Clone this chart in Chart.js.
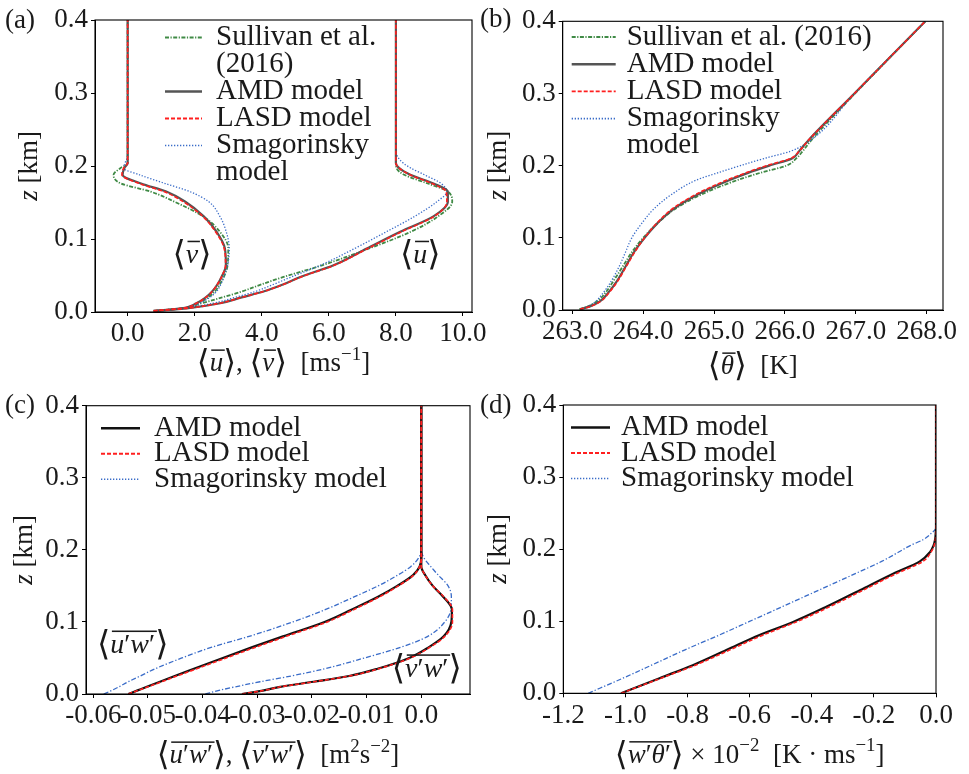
<!DOCTYPE html>
<html>
<head>
<meta charset="utf-8">
<script src="https://cdn.jsdelivr.net/npm/chart.js@4.4.0/dist/chart.umd.min.js"></script>
<style>
  body { margin: 0; background: #fff; }
  #fig { position: relative; width: 969px; height: 774px; overflow: hidden; }
  #fig canvas { position: absolute; }
</style>
</head>
<body>
<div id="fig">
  <canvas id="panelA" width="490" height="387" style="left:0;top:0"></canvas>
  <canvas id="panelC" width="490" height="387" style="left:0;top:387px"></canvas>
  <canvas id="panelB" width="493" height="387" style="left:476px;top:0"></canvas>
  <canvas id="panelD" width="493" height="387" style="left:476px;top:387px"></canvas>
</div>
<script>
"use strict";

// (a) mean velocity profiles, heights in km
var zA = [0.0015, 0.005, 0.012, 0.02, 0.028, 0.038, 0.048, 0.064, 0.087, 0.11, 0.131, 0.151, 0.165, 0.176, 0.188, 0.197, 0.204, 0.212, 0.22, 0.23, 0.4];
var uSullivan = [0.8, 1.6, 2.2, 2.82, 3.4, 4.0, 4.65, 5.8, 7.2, 8.45, 9.26, 9.68, 9.55, 8.95, 8.25, 8.02, 8.0, 8.0, 8.0, 8.0, 8.0];
var uAmd = [0.78, 1.76, 2.76, 3.4, 4.05, 4.65, 5.15, 6.14, 7.13, 8.13, 9.12, 9.55, 9.55, 9.12, 8.43, 8.1, 8.0, 8.0, 8.0, 8.0, 8.0];
var uLasd = [0.78, 1.74, 2.74, 3.4, 4.05, 4.66, 5.17, 6.16, 7.16, 8.17, 9.14, 9.52, 9.5, 9.08, 8.42, 8.1, 8.0, 8.0, 8.0, 8.0, 8.0];
var uSmag = [0.85, 1.65, 2.55, 3.2, 3.8, 4.36, 4.88, 5.75, 6.77, 7.72, 8.56, 9.22, 9.52, 9.35, 8.85, 8.45, 8.22, 8.06, 8.0, 8.0, 8.0];
var vSullivan = [0.8, 1.65, 2.1, 2.4, 2.6, 2.75, 2.87, 2.98, 3.0, 2.75, 2.25, 1.4, 0.68, -0.2, -0.42, -0.22, 0.0, 0.0, 0.0, 0.0, 0.0];
var vAmd = [0.77, 1.6, 2.05, 2.33, 2.52, 2.68, 2.8, 2.93, 2.9, 2.65, 2.27, 1.72, 1.15, 0.4, -0.15, -0.1, 0.0, 0.0, 0.0, 0.0, 0.0];
var vLasd = [0.77, 1.6, 2.05, 2.33, 2.52, 2.68, 2.8, 2.92, 2.88, 2.62, 2.24, 1.66, 1.08, 0.35, -0.17, -0.12, 0.0, 0.0, 0.0, 0.0, 0.0];
var vSmag = [0.85, 1.7, 2.15, 2.45, 2.65, 2.78, 2.87, 2.98, 3.03, 2.94, 2.75, 2.42, 1.85, 1.12, 0.35, -0.12, -0.08, -0.01, 0.0, 0.0, 0.0];

// (b) potential temperature
var zB = [0.001, 0.005, 0.012, 0.023, 0.04, 0.06, 0.08, 0.1, 0.12, 0.14, 0.16, 0.18, 0.19, 0.2, 0.21, 0.22, 0.235, 0.3, 0.4];
var thSullivan = [263.1, 263.22, 263.35, 263.46, 263.58, 263.71, 263.84, 264.0, 264.2, 264.45, 264.82, 265.33, 265.65, 266.02, 266.16, 266.25, 266.37, 266.99, 267.98];
var thAmd = [263.11, 263.25, 263.39, 263.5, 263.63, 263.75, 263.87, 264.02, 264.2, 264.43, 264.77, 265.22, 265.48, 265.78, 266.1, 266.2, 266.33, 266.98, 267.98];
var thLasd = [263.11, 263.26, 263.4, 263.51, 263.64, 263.76, 263.88, 264.02, 264.19, 264.41, 264.74, 265.18, 265.45, 265.74, 266.08, 266.2, 266.33, 266.98, 267.98];
var thSmag = [263.11, 263.22, 263.33, 263.43, 263.55, 263.66, 263.75, 263.84, 263.98, 264.15, 264.4, 264.75, 265.05, 265.37, 265.71, 266.08, 266.36, 266.98, 267.98];

// (c) momentum fluxes
var zC = [0, 0.005, 0.01, 0.017, 0.025, 0.035, 0.05, 0.065, 0.08, 0.1, 0.117, 0.135, 0.15, 0.165, 0.177, 0.19, 0.2, 0.4];
var uwAmd = [-0.0536, -0.0519, -0.0502, -0.0478, -0.0451, -0.0416, -0.0363, -0.0309, -0.0253, -0.0177, -0.0128, -0.0079, -0.0044, -0.0015, -0.0003, 0, 0, 0];
var uwLasd = [-0.0536, -0.0518, -0.05, -0.0475, -0.0447, -0.0411, -0.0357, -0.0303, -0.0247, -0.0172, -0.0124, -0.0076, -0.0042, -0.0014, -0.0003, 0, 0, 0];
var uwSmag = [-0.0581, -0.0566, -0.0553, -0.0536, -0.0514, -0.0487, -0.0438, -0.0383, -0.0315, -0.0235, -0.0176, -0.0122, -0.0079, -0.0043, -0.0019, -0.0004, 0, 0];
var vwAmd = [-0.0328, -0.0288, -0.0258, -0.0197, -0.0132, -0.008, -0.0022, 0.0014, 0.0041, 0.0055, 0.0056, 0.004, 0.0021, 0.0007, 0, 0, 0, 0];
var vwLasd = [-0.0328, -0.0288, -0.0257, -0.0196, -0.0131, -0.0078, -0.002, 0.0016, 0.0043, 0.0057, 0.0057, 0.0041, 0.0021, 0.0007, 0, 0, 0, 0];
var vwSmag = [-0.0395, -0.037, -0.034, -0.0295, -0.0238, -0.0177, -0.0104, -0.0037, 0.0012, 0.0043, 0.0054, 0.0055, 0.0049, 0.0031, 0.0017, 0.0004, 0, 0];

// (d) heat flux, units of 1e-2 K m/s
var zD = [0, 0.021, 0.039, 0.06, 0.081, 0.099, 0.12, 0.143, 0.166, 0.183, 0.196, 0.205, 0.213, 0.222, 0.23, 0.4];
var wtAmd = [-1.014, -0.89, -0.783, -0.675, -0.568, -0.46, -0.353, -0.245, -0.138, -0.052, -0.019, -0.008, -0.003, -0.001, 0, 0];
var wtLasd = [-1.014, -0.885, -0.775, -0.665, -0.556, -0.45, -0.343, -0.235, -0.128, -0.042, -0.016, -0.006, -0.002, 0, 0, 0];
var wtSmag = [-1.12, -1.008, -0.916, -0.81, -0.697, -0.604, -0.496, -0.378, -0.26, -0.175, -0.12, -0.083, -0.042, -0.015, 0, 0];

// tick positions
var zTicks = [0, 0.1, 0.2, 0.3, 0.4];
var uTicks = [0, 2, 4, 6, 8, 10];
var thTicks = [263, 264, 265, 266, 267, 268];
var fluxTicks = [-0.06, -0.05, -0.04, -0.03, -0.02, -0.01, 0];
var heatTicks = [-1.2, -1.0, -0.8, -0.6, -0.4, -0.2, 0];

var SERIF = '"Liberation Serif", "DejaVu Serif", serif';
var BRACKET = '200 {s}px "DejaVu Sans", "DejaVu Serif", ' + SERIF;
var INK = '#1a1a1a';
var LA = '\u27E8', RA = '\u27E9';

var sty = {
  sullivan: { borderColor: '#3f8a45', borderWidth: 1.8, borderDash: [4, 1.5, 1.2, 1.5], order: 3 },
  amdGray: { borderColor: '#555555', borderWidth: 2.2, order: 1 },
  amdBlack: { borderColor: '#111111', borderWidth: 2.2, order: 1 },
  lasd: { borderColor: '#ff1f1f', borderWidth: 1.6, borderDash: [4, 2], order: 0 },
  smagDot: { borderColor: '#3a6cc8', borderWidth: 1.3, borderDash: [1.3, 1.7], order: 2 },
  smagDashDot: { borderColor: '#3a6cc8', borderWidth: 1.3, borderDash: [5, 2, 1.3, 2], legendDash: [1.3, 1.7], order: 2 }
};

function pts(zs, xs) {
  return zs.map(function (z, i) { return { x: xs[i], y: z }; });
}

function series(label, zs, xs, style) {
  return Object.assign({ label: label, data: pts(zs, xs), pointRadius: 0 }, style);
}

// piece of math text: i = italic, o = overline, s = superscript, b = big bracket
function M(t, f) {
  f = f || '';
  return { t: t, it: f.indexOf('i') >= 0, ov: f.indexOf('o') >= 0, sup: f.indexOf('s') >= 0, br: f.indexOf('b') >= 0 };
}

function drawMath(ctx, parts, x, y, size, align) {
  var runs = parts.map(function (p) {
    var font;
    if (p.br) font = BRACKET.replace('{s}', (size * 1.22).toFixed(1));
    else font = (p.it ? 'italic ' : '') + (p.sup ? size * 0.7 : size) + 'px ' + SERIF;
    ctx.font = font;
    return { p: p, font: font, w: ctx.measureText(p.t).width, dy: p.sup ? -size * 0.42 : p.br ? size * 0.08 : 0 };
  });
  var total = runs.reduce(function (s, r) { return s + r.w; }, 0);
  var cx = align === 'center' ? x - total / 2 : align === 'right' ? x - total : x;
  var barStart = null;
  ctx.textAlign = 'left';
  ctx.textBaseline = 'alphabetic';
  runs.forEach(function (r, i) {
    ctx.font = r.font;
    ctx.fillText(r.p.t, cx, y + r.dy);
    if (r.p.ov && barStart === null) barStart = cx;
    var next = runs[i + 1];
    if (r.p.ov && !(next && next.p.ov)) {
      ctx.fillRect(barStart + size * 0.06, y - size * 0.8, cx + r.w - barStart, size * 0.055);
      barStart = null;
    }
    cx += r.w;
  });
}

var framePlugin = {
  id: 'frame',
  afterDraw: function (chart) {
    var a = chart.chartArea, ctx = chart.ctx;
    ctx.save();
    ctx.strokeStyle = '#000';
    ctx.lineWidth = 1.1;
    ctx.strokeRect(a.left, a.top, a.right - a.left, a.bottom - a.top);
    ctx.restore();
  }
};

function legendPlugin(o) {
  return {
    id: 'profileLegend',
    afterDatasetsDraw: function (chart) {
      var ctx = chart.ctx, y = o.y;
      ctx.save();
      chart.data.datasets.forEach(function (ds) {
        if (!ds.label) return;
        ctx.strokeStyle = ds.borderColor;
        ctx.lineWidth = ds.borderWidth + 0.3;
        ctx.setLineDash(ds.legendDash || ds.borderDash || []);
        ctx.beginPath();
        ctx.moveTo(o.x, y - 7.5);
        ctx.lineTo(o.x + o.sample, y - 7.5);
        ctx.stroke();
        ctx.setLineDash([]);
        ctx.fillStyle = INK;
        ctx.font = '29px ' + SERIF;
        ctx.textAlign = 'left';
        ctx.textBaseline = 'alphabetic';
        ds.label.split('\n').forEach(function (line) {
          ctx.fillText(line, o.x + o.sample + o.gap, y);
          y += o.row;
        });
      });
      ctx.restore();
    }
  };
}

function textPlugin(items) {
  return {
    id: 'mathText',
    afterDraw: function (chart) {
      var ctx = chart.ctx;
      ctx.save();
      ctx.fillStyle = INK;
      items.forEach(function (it) {
        var x = it.x, y = it.y;
        if (it.data) {
          x = chart.scales.x.getPixelForValue(it.data[0]);
          y = chart.scales.y.getPixelForValue(it.data[1]);
        }
        if (it.rot) {
          ctx.save();
          ctx.translate(x, y);
          ctx.rotate(-Math.PI / 2);
          drawMath(ctx, it.parts, 0, 0, it.size, 'center');
          ctx.restore();
        } else {
          drawMath(ctx, it.parts, x, y, it.size, it.align || 'center');
        }
      });
      ctx.restore();
    }
  };
}

function axis(min, max, ticks, fmt, band, isX) {
  return {
    type: 'linear',
    position: isX ? 'bottom' : 'left',
    min: min,
    max: max,
    afterBuildTicks: function (s) { s.ticks = ticks.map(function (v) { return { value: v }; }); },
    afterFit: function (s) {
      if (isX) s.height = band; else s.width = band;
      s.paddingLeft = s.paddingRight = s.paddingTop = s.paddingBottom = 0;
    },
    grid: { drawOnChartArea: false, drawTicks: true, tickLength: 4, color: '#000', lineWidth: 1 },
    border: { display: true, color: '#000', width: 1 },
    ticks: {
      autoSkip: false, maxRotation: 0, minRotation: 0, padding: isX ? 2 : 3,
      color: INK, font: { family: SERIF, size: 27 },
      callback: fmt
    }
  };
}

function profileChart(id, c) {
  return new Chart(document.getElementById(id), {
    type: 'line',
    data: { datasets: c.datasets },
    options: {
      responsive: false,
      animation: false,
      devicePixelRatio: 1,
      indexAxis: 'y',
      layout: { padding: { top: c.top, right: c.right, left: 0, bottom: 0 } },
      elements: { point: { radius: 0 }, line: { cubicInterpolationMode: 'monotone', fill: false } },
      plugins: { legend: { display: false }, tooltip: { enabled: false } },
      scales: { x: c.x, y: c.y }
    },
    plugins: [framePlugin, legendPlugin(c.legend), textPlugin(c.text)]
  });
}

function f1(v) { return v.toFixed(1); }
function f2(v) { return v === 0 ? '0.0' : v.toFixed(2); }
var zTitle = [M('z', 'i'), M(' [km]')];

profileChart('panelA', {
  top: 20, right: 18,
  x: axis(-0.974, 10.27, uTicks, f1, 75, true),
  y: axis(0, 0.4, zTicks, f1, 95, false),
  datasets: [
    series('Sullivan et al.\n(2016)', zA, uSullivan, sty.sullivan),
    series('AMD model', zA, uAmd, sty.amdGray),
    series('LASD model', zA, uLasd, sty.lasd),
    series('Smagorinsky\nmodel', zA, uSmag, sty.smagDot),
    series('', zA, vSullivan, sty.sullivan),
    series('', zA, vAmd, sty.amdGray),
    series('', zA, vLasd, sty.lasd),
    series('', zA, vSmag, sty.smagDot)
  ],
  legend: { x: 165, y: 45, sample: 37, gap: 14, row: 27 },
  text: [
    { parts: [M('(a)')], x: 5, y: 28, size: 27, align: 'left' },
    { parts: zTitle, x: 37, y: 166, size: 27, rot: true },
    { parts: [M(LA, 'b'), M('u', 'io'), M(RA, 'b'), M(', '), M(LA, 'b'), M('v', 'io'), M(RA, 'b'), M('\u2002[ms'), M('\u22121', 's'), M(']')], x: 283.5, y: 371, size: 27 },
    { parts: [M(LA, 'b'), M('v', 'io'), M(RA, 'b')], data: [1.92, 0.067], size: 28 },
    { parts: [M(LA, 'b'), M('u', 'io'), M(RA, 'b')], data: [8.73, 0.067], size: 28 }
  ]
});

profileChart('panelB', {
  top: 21.3, right: 26,
  x: axis(262.865, 268.23, thTicks, f1, 77, true),
  y: axis(0, 0.4, zTicks, f1, 86.7, false),
  datasets: [
    series('Sullivan et al. (2016)', zB, thSullivan, sty.sullivan),
    series('AMD model', zB, thAmd, sty.amdGray),
    series('LASD model', zB, thLasd, sty.lasd),
    series('Smagorinsky\nmodel', zB, thSmag, sty.smagDot)
  ],
  legend: { x: 95.7, y: 44.5, sample: 44, gap: 11, row: 27.2 },
  text: [
    { parts: [M('(b)')], x: 4, y: 27, size: 27, align: 'left' },
    { parts: zTitle, x: 30, y: 165.7, size: 27, rot: true },
    { parts: [M(LA, 'b'), M('\u03B8', 'io'), M(RA, 'b'), M('\u2002[K]')], x: 276.8, y: 374, size: 27 }
  ]
});

profileChart('panelC', {
  top: 18.7, right: 20,
  x: axis(-0.06134, 0.00891, fluxTicks, f2, 80, true),
  y: axis(0, 0.4, zTicks, f1, 86, false),
  datasets: [
    series('AMD model', zC, uwAmd, sty.amdBlack),
    series('LASD model', zC, uwLasd, sty.lasd),
    series('Smagorinsky model', zC, uwSmag, sty.smagDashDot),
    series('', zC, vwAmd, sty.amdBlack),
    series('', zC, vwLasd, sty.lasd),
    series('', zC, vwSmag, sty.smagDashDot)
  ],
  legend: { x: 101, y: 48.7, sample: 39, gap: 14, row: 25.5 },
  text: [
    { parts: [M('(c)')], x: 5, y: 26, size: 27, align: 'left' },
    { parts: zTitle, x: 32, y: 162.8, size: 27, rot: true },
    { parts: [M(LA, 'b'), M('u', 'io'), M('\u2032', 'o'), M('w', 'io'), M('\u2032', 'o'), M(RA, 'b'), M(', '),
              M(LA, 'b'), M('v', 'io'), M('\u2032', 'o'), M('w', 'io'), M('\u2032', 'o'), M(RA, 'b'),
              M('\u2002[m'), M('2', 's'), M('s'), M('\u22122', 's'), M(']')], x: 278, y: 376, size: 27 },
    { parts: [M(LA, 'b'), M('u', 'io'), M('\u2032', 'o'), M('w', 'io'), M('\u2032', 'o'), M(RA, 'b')], data: [-0.0528, 0.057], size: 28 },
    { parts: [M(LA, 'b'), M('v', 'io'), M('\u2032', 'o'), M('w', 'io'), M('\u2032', 'o'), M(RA, 'b')], data: [0.001, 0.024], size: 28 }
  ]
});

profileChart('panelD', {
  top: 18, right: 33,
  x: axis(-1.2, 0, heatTicks, f1, 80.7, true),
  y: axis(0, 0.4, zTicks, f1, 87.3, false),
  datasets: [
    series('AMD model', zD, wtAmd, sty.amdBlack),
    series('LASD model', zD, wtLasd, sty.lasd),
    series('Smagorinsky model', zD, wtSmag, sty.smagDashDot)
  ],
  legend: { x: 95, y: 48, sample: 39, gap: 11, row: 25.5 },
  text: [
    { parts: [M('(d)')], x: 4, y: 26, size: 27, align: 'left' },
    { parts: zTitle, x: 30, y: 162, size: 27, rot: true },
    { parts: [M(LA, 'b'), M('w', 'io'), M('\u2032', 'o'), M('\u03B8', 'io'), M('\u2032', 'o'), M(RA, 'b'),
              M(' \u00D7 10'), M('\u22122', 's'), M('\u2002[K \u00B7 ms'), M('\u22121', 's'), M(']')], x: 273.7, y: 375.7, size: 27 }
  ]
});
</script>
</body>
</html>
